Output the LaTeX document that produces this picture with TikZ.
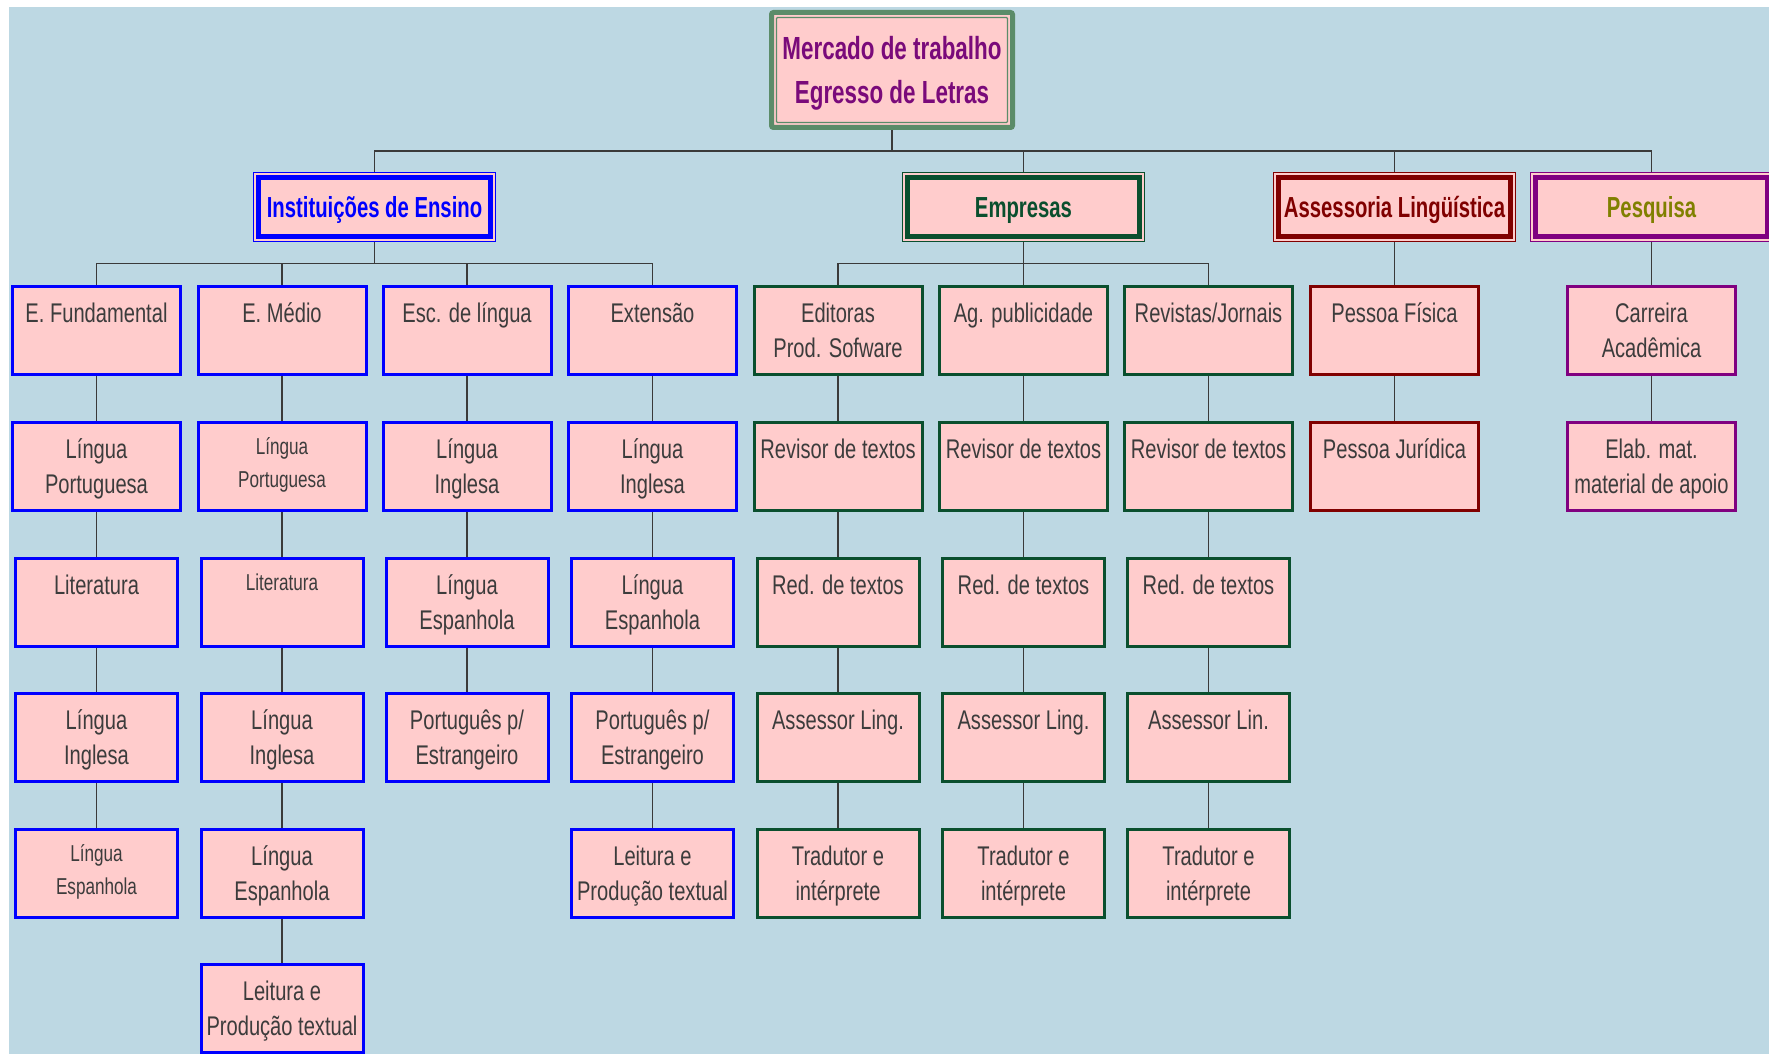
\documentclass[tikz,border=0pt]{standalone}
\usepackage{fontspec}
\setmainfont{Liberation Sans}[FakeStretch=0.745]
\newfontfamily\hdrfont{Liberation Sans}[FakeStretch=0.70]
\usetikzlibrary{backgrounds}
\definecolor{bgblue}{HTML}{BDD8E3}
\definecolor{pinkfill}{HTML}{FFCCCC}
\definecolor{txt}{HTML}{3C3C3C}
\definecolor{bl}{HTML}{0000FF}
\definecolor{gr}{HTML}{0A4F2E}
\definecolor{dr}{HTML}{800000}
\definecolor{pu}{HTML}{800080}
\definecolor{ol}{HTML}{808000}
\definecolor{rootgr}{HTML}{5B8C69}
\definecolor{rootpu}{HTML}{7A0A7A}
\definecolor{wirec}{HTML}{3A3A3A}
\newcommand\nrm{\fontsize{27pt}{35pt}\selectfont\vspace*{11.7pt}}
\newcommand\sml{\fontsize{23pt}{33pt}\selectfont\vspace*{9.6pt}}
\newcommand\wb[2][\nrm]{\parbox[c][88pt][t]{168pt}{\centering#1\strut#2}}
\newcommand\nb[2][\nrm]{\parbox[c][88pt][t]{162pt}{\centering#1\strut#2}}
\tikzset{
  cell/.style={draw=#1, line width=3pt, fill=pinkfill, inner sep=0pt, outer sep=0pt, text=txt},
  hdr/.style={draw=#1, text=#1, line width=1.2pt, fill=pinkfill, inner sep=0pt, outer sep=0pt,
    minimum width=241.8pt, minimum height=68.8pt, text height=24pt, text depth=3.2pt,
    font={\hdrfont\bfseries\fontsize{29pt}{35pt}\selectfont}},
  hdrin/.style={draw=#1, line width=5pt},
  wire/.style={draw=wirec, line width=1.5pt}
}
\begin{document}
\begin{tikzpicture}[x=1pt,y=-1pt]
\useasboundingbox (0,0) rectangle (1769,1054);
\begin{scope}[on background layer]
\fill[white] (0,0) rectangle (1769,1054);
\fill[bgblue] (9,7) rectangle (1769,1054);
\end{scope}

% root
\node[draw=rootgr, line width=5pt, fill=pinkfill, rounded corners=2pt, inner sep=0pt, outer sep=0pt,
  text=rootpu] (root) at (892,70)
  {\parbox[c][115pt][t]{241pt}{\centering\hdrfont\bfseries\fontsize{32pt}{44pt}\selectfont
   \vspace*{16.5pt}\strut Mercado de trabalho\\Egresso de Letras}};
\draw[rootgr, line width=1.2pt, rounded corners=1pt] ([shift={(5,5)}]root.north west) rectangle ([shift={(-5,-5)}]root.south east);

% headers
\node[hdr=bl] (ie) at (374.5,207) {Instituições de Ensino};
\draw[hdrin=bl] ([shift={(5.2,5.2)}]ie.north west) rectangle ([shift={(-5.2,-5.2)}]ie.south east);
\node[hdr=gr] (emp) at (1023.5,207) {Empresas};
\draw[hdrin=gr] ([shift={(5.2,5.2)}]emp.north west) rectangle ([shift={(-5.2,-5.2)}]emp.south east);
\node[hdr=dr] (as) at (1394.5,207) {Assessoria Lingüística};
\draw[hdrin=dr] ([shift={(5.2,5.2)}]as.north west) rectangle ([shift={(-5.2,-5.2)}]as.south east);
\node[hdr=pu, text=ol] (pq) at (1651.5,207) {Pesquisa};
\draw[hdrin=pu] ([shift={(5.2,5.2)}]pq.north west) rectangle ([shift={(-5.2,-5.2)}]pq.south east);

% column A
\node[cell=bl] (a1) at (96.5,330.5) {\wb{E. Fundamental}};
\node[cell=bl] (a2) at (96.5,466.2) {\wb{Língua\\Portuguesa}};
\node[cell=bl] (a3) at (96.5,602) {\nb{Literatura}};
\node[cell=bl] (a4) at (96.5,737.5) {\nb{Língua\\Inglesa}};
\node[cell=bl] (a5) at (96.5,873) {\nb[\sml]{Língua\\Espanhola}};
% column B
\node[cell=bl] (b1) at (282,330.5) {\wb{E. Médio}};
\node[cell=bl] (b2) at (282,466.2) {\wb[\sml]{Língua\\Portuguesa}};
\node[cell=bl] (b3) at (282,602) {\nb[\sml]{Literatura}};
\node[cell=bl] (b4) at (282,737.5) {\nb{Língua\\Inglesa}};
\node[cell=bl] (b5) at (282,873) {\nb{Língua\\Espanhola}};
\node[cell=bl] (b6) at (282,1008) {\nb{Leitura e\\Produção textual}};
% column C
\node[cell=bl] (c1) at (467,330.5) {\wb{Esc. de língua}};
\node[cell=bl] (c2) at (467,466.2) {\wb{Língua\\Inglesa}};
\node[cell=bl] (c3) at (467,602) {\nb{Língua\\Espanhola}};
\node[cell=bl] (c4) at (467,737.5) {\nb{Português p/\\Estrangeiro}};
% column D
\node[cell=bl] (d1) at (652.5,330.5) {\wb{Extensão}};
\node[cell=bl] (d2) at (652.5,466.2) {\wb{Língua\\Inglesa}};
\node[cell=bl] (d3) at (652.5,602) {\nb{Língua\\Espanhola}};
\node[cell=bl] (d4) at (652.5,737.5) {\nb{Português p/\\Estrangeiro}};
\node[cell=bl] (d5) at (652.5,873) {\nb{Leitura e\\Produção textual}};
% column E
\node[cell=gr] (e1) at (838,330.5) {\wb{Editoras\\Prod. Sofware}};
\node[cell=gr] (e2) at (838,466.2) {\wb{Revisor de textos}};
\node[cell=gr] (e3) at (838,602) {\nb{Red. de textos}};
\node[cell=gr] (e4) at (838,737.5) {\nb{Assessor Ling.}};
\node[cell=gr] (e5) at (838,873) {\nb{Tradutor e\\intérprete}};
% column F
\node[cell=gr] (f1) at (1023.5,330.5) {\wb{Ag. publicidade}};
\node[cell=gr] (f2) at (1023.5,466.2) {\wb{Revisor de textos}};
\node[cell=gr] (f3) at (1023.5,602) {\nb{Red. de textos}};
\node[cell=gr] (f4) at (1023.5,737.5) {\nb{Assessor Ling.}};
\node[cell=gr] (f5) at (1023.5,873) {\nb{Tradutor e\\intérprete}};
% column G
\node[cell=gr] (g1) at (1208.5,330.5) {\wb{Revistas/Jornais}};
\node[cell=gr] (g2) at (1208.5,466.2) {\wb{Revisor de textos}};
\node[cell=gr] (g3) at (1208.5,602) {\nb{Red. de textos}};
\node[cell=gr] (g4) at (1208.5,737.5) {\nb{Assessor Lin.}};
\node[cell=gr] (g5) at (1208.5,873) {\nb{Tradutor e\\intérprete}};
% column H
\node[cell=dr] (h1) at (1394.5,330.5) {\wb{Pessoa Física}};
\node[cell=dr] (h2) at (1394.5,466.2) {\wb{Pessoa Jurídica}};
% column I
\node[cell=pu] (i1) at (1651.5,330.5) {\wb{Carreira\\Acadêmica}};
\node[cell=pu] (i2) at (1651.5,466.2) {\wb{Elab. mat.\\material de apoio}};

\begin{scope}[on background layer]
\coordinate (bus0) at (0,151);
\coordinate (bus1) at (0,263.5);
\draw[wire] (root.south) -- (root.south |- bus0);
\draw[wire] (ie.north) -- (ie.north |- bus0) -- (pq.north |- bus0) -- (pq.north);
\draw[wire] (emp.north) -- (emp.north |- bus0);
\draw[wire] (as.north) -- (as.north |- bus0);
\draw[wire] (ie.south) -- (ie.south |- bus1);
\draw[wire] (a1.north) -- (a1.north |- bus1) -- (d1.north |- bus1) -- (d1.north);
\draw[wire] (b1.north) -- (b1.north |- bus1);
\draw[wire] (c1.north) -- (c1.north |- bus1);
\draw[wire] (emp.south) -- (f1.north);
\draw[wire] (e1.north) -- (e1.north |- bus1) -- (g1.north |- bus1) -- (g1.north);
\draw[wire] (as.south) -- (h1.north);
\draw[wire] (pq.south) -- (i1.north);
\draw[wire] (a1) -- (a2) -- (a3) -- (a4) -- (a5);
\draw[wire] (b1) -- (b2) -- (b3) -- (b4) -- (b5) -- (b6);
\draw[wire] (c1) -- (c2) -- (c3) -- (c4);
\draw[wire] (d1) -- (d2) -- (d3) -- (d4) -- (d5);
\draw[wire] (e1) -- (e2) -- (e3) -- (e4) -- (e5);
\draw[wire] (f1) -- (f2) -- (f3) -- (f4) -- (f5);
\draw[wire] (g1) -- (g2) -- (g3) -- (g4) -- (g5);
\draw[wire] (h1) -- (h2);
\draw[wire] (i1) -- (i2);
\end{scope}
\end{tikzpicture}
\end{document}
